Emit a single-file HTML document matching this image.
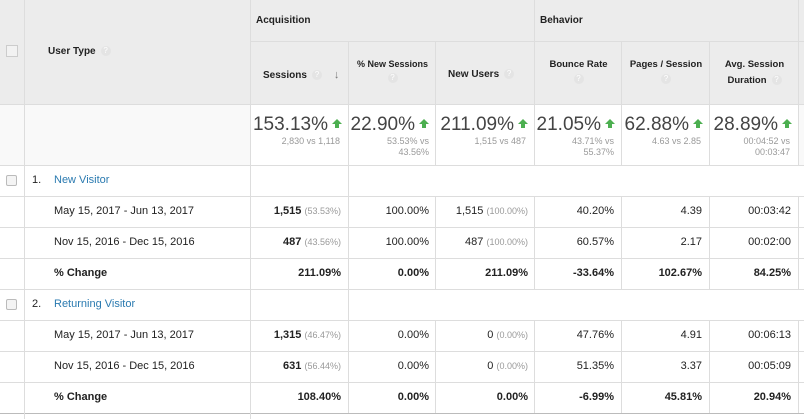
<!DOCTYPE html>
<html><head><style>
*{margin:0;padding:0;box-sizing:border-box}
body{width:804px;height:419px;background:#fff;font-family:"Liberation Sans",Arial,sans-serif;color:#222;position:relative;overflow:hidden}
.a{position:absolute}
.hl{position:absolute;height:1px;background:#ddd}
.vl{position:absolute;width:1px;background:#ddd}
.h{font-size:10px;font-weight:bold;color:#222}
.q{display:inline-block;width:10px;height:10px;border-radius:50%;background:#e4e4e4;color:#fff;font-size:8px;text-align:center;line-height:10px;vertical-align:middle;margin-left:5px;font-weight:normal}
.big{font-size:19px;color:#444;text-align:right}
.up{display:inline-block;width:0;height:0;border-left:5px solid transparent;border-right:5px solid transparent;border-bottom:5px solid #4caf50;position:relative;top:-6px;margin-left:4px}
.up:after{content:"";position:absolute;left:-2px;top:5px;width:4px;height:4px;background:#4caf50}
.sm{font-size:9px;color:#999;text-align:right;line-height:11px}
.c{font-size:11px;text-align:right}
.g{color:#999;font-size:9px}
.b{font-weight:bold}
</style></head><body>
<div class="a" style="left:0;top:0;width:804px;height:104px;background:#ececec"></div>
<div class="a" style="left:0;top:104px;width:804px;height:61px;background:#f9f9f9"></div>
<div class="a" style="left:251px;top:104px;width:548px;height:61px;background:#fff"></div>
<div class="hl" style="left:0;top:104px;width:804px"></div>
<div class="hl" style="left:251px;top:41px;width:553px"></div>
<div class="hl" style="left:0;top:165px;width:804px"></div>
<div class="hl" style="left:0;top:196px;width:804px"></div>
<div class="hl" style="left:0;top:227px;width:804px"></div>
<div class="hl" style="left:0;top:258px;width:804px"></div>
<div class="hl" style="left:0;top:289px;width:804px"></div>
<div class="hl" style="left:0;top:320px;width:804px"></div>
<div class="hl" style="left:0;top:351px;width:804px"></div>
<div class="hl" style="left:0;top:382px;width:804px"></div>
<div class="hl" style="left:0;top:413px;width:804px;background:#bbb"></div>
<div class="vl" style="left:24px;top:0;height:419px"></div>
<div class="vl" style="left:250px;top:0;height:419px"></div>
<div class="vl" style="left:534px;top:0;height:165px"></div>
<div class="vl" style="left:798px;top:0;height:165px"></div>
<div class="vl" style="left:348px;top:41px;height:124px"></div>
<div class="vl" style="left:435px;top:41px;height:124px"></div>
<div class="vl" style="left:621px;top:41px;height:124px"></div>
<div class="vl" style="left:709px;top:41px;height:124px"></div>
<div class="vl" style="left:348px;top:165px;height:31px"></div>
<div class="vl" style="left:348px;top:289px;height:31px"></div>
<div class="a" style="left:348px;top:196px;width:451px;height:93px;border-left:1px solid #ddd;border-right:1px solid #ddd"></div>
<div class="vl" style="left:435px;top:196px;height:93px"></div><div class="vl" style="left:534px;top:196px;height:93px"></div><div class="vl" style="left:621px;top:196px;height:93px"></div><div class="vl" style="left:709px;top:196px;height:93px"></div>
<div class="a" style="left:348px;top:320px;width:451px;height:93px;border-left:1px solid #ddd;border-right:1px solid #ddd"></div>
<div class="vl" style="left:435px;top:320px;height:93px"></div><div class="vl" style="left:534px;top:320px;height:93px"></div><div class="vl" style="left:621px;top:320px;height:93px"></div><div class="vl" style="left:709px;top:320px;height:93px"></div>
<div class="a" style="left:6px;top:45px;width:12px;height:12px;border:1px solid #ccc;background:#f2f2f2"></div>
<div class="a h" style="left:48px;top:46px">User Type<span class="q">?</span></div>
<div class="a h" style="left:256px;top:15px">Acquisition</div>
<div class="a h" style="left:540px;top:15px">Behavior</div>
<div class="a h" style="left:263px;top:69px">Sessions<span class="q">?</span><span style="margin-left:12px;color:#777;font-size:11px">↓</span></div>
<div class="a h" style="left:349px;top:59px;width:87px;text-align:center;font-size:9px">% New Sessions<br><span class="q" style="margin:4px 0 0">?</span></div>
<div class="a h" style="left:448px;top:69px">New Users<span class="q">?</span></div>
<div class="a h" style="left:535px;top:59px;width:87px;text-align:center;font-size:9.5px">Bounce Rate<br><span class="q" style="margin:4px 0 0">?</span></div>
<div class="a h" style="left:622px;top:59px;width:88px;text-align:center;font-size:9.5px">Pages / Session<br><span class="q" style="margin:4px 0 0">?</span></div>
<div class="a h" style="left:710px;top:57px;width:89px;text-align:center;font-size:9.5px;line-height:16px">Avg. Session<br>Duration<span class="q">?</span></div>
<div class="a big" style="left:252px;top:114px;width:90px">153.13%<span class="up"></span></div>
<div class="a sm" style="left:252px;top:136px;width:88px">2,830 vs 1,118</div>
<div class="a big" style="left:349px;top:114px;width:80px">22.90%<span class="up"></span></div>
<div class="a sm" style="left:349px;top:136px;width:80px">53.53% vs<br>43.56%</div>
<div class="a big" style="left:436px;top:114px;width:92px">211.09%<span class="up"></span></div>
<div class="a sm" style="left:436px;top:136px;width:90px">1,515 vs 487</div>
<div class="a big" style="left:535px;top:114px;width:80px">21.05%<span class="up"></span></div>
<div class="a sm" style="left:535px;top:136px;width:79px">43.71% vs<br>55.37%</div>
<div class="a big" style="left:622px;top:114px;width:81px">62.88%<span class="up"></span></div>
<div class="a sm" style="left:622px;top:136px;width:79px">4.63 vs 2.85</div>
<div class="a big" style="left:710px;top:114px;width:82px">28.89%<span class="up"></span></div>
<div class="a sm" style="left:710px;top:136px;width:80px">00:04:52 vs<br>00:03:47</div>
<div class="a" style="left:6px;top:175px;width:11px;height:11px;border:1px solid #bbb;border-radius:2px;background:#f4f4f4"></div>
<div class="a c" style="left:32px;top:174px;text-align:left">1.</div>
<div class="a c" style="left:54px;top:174px;text-align:left;color:#2a7ab0">New Visitor</div>
<div class="a" style="left:6px;top:299px;width:11px;height:11px;border:1px solid #bbb;border-radius:2px;background:#f4f4f4"></div>
<div class="a c" style="left:32px;top:298px;text-align:left">2.</div>
<div class="a c" style="left:54px;top:298px;text-align:left;color:#2a7ab0">Returning Visitor</div>
<div class="a c" style="left:54px;top:205px;text-align:left">May 15, 2017 - Jun 13, 2017</div>
<div class="a c" style="left:54px;top:236px;text-align:left">Nov 15, 2016 - Dec 15, 2016</div>
<div class="a c b" style="left:54px;top:267px;text-align:left">% Change</div>
<div class="a c" style="left:54px;top:329px;text-align:left">May 15, 2017 - Jun 13, 2017</div>
<div class="a c" style="left:54px;top:360px;text-align:left">Nov 15, 2016 - Dec 15, 2016</div>
<div class="a c b" style="left:54px;top:391px;text-align:left">% Change</div>
<div class="a c" style="left:251px;top:205px;width:90px"><b>1,515</b> <span class="g">(53.53%)</span></div>
<div class="a c" style="left:251px;top:236px;width:90px"><b>487</b> <span class="g">(43.56%)</span></div>
<div class="a c b" style="left:251px;top:267px;width:90px">211.09%</div>
<div class="a c" style="left:251px;top:329px;width:90px"><b>1,315</b> <span class="g">(46.47%)</span></div>
<div class="a c" style="left:251px;top:360px;width:90px"><b>631</b> <span class="g">(56.44%)</span></div>
<div class="a c b" style="left:251px;top:391px;width:90px">108.40%</div>
<div class="a c" style="left:349px;top:205px;width:80px">100.00%</div>
<div class="a c" style="left:349px;top:236px;width:80px">100.00%</div>
<div class="a c b" style="left:349px;top:267px;width:80px">0.00%</div>
<div class="a c" style="left:349px;top:329px;width:80px">0.00%</div>
<div class="a c" style="left:349px;top:360px;width:80px">0.00%</div>
<div class="a c b" style="left:349px;top:391px;width:80px">0.00%</div>
<div class="a c" style="left:436px;top:205px;width:92px">1,515 <span class="g">(100.00%)</span></div>
<div class="a c" style="left:436px;top:236px;width:92px">487 <span class="g">(100.00%)</span></div>
<div class="a c b" style="left:436px;top:267px;width:92px">211.09%</div>
<div class="a c" style="left:436px;top:329px;width:92px">0 <span class="g">(0.00%)</span></div>
<div class="a c" style="left:436px;top:360px;width:92px">0 <span class="g">(0.00%)</span></div>
<div class="a c b" style="left:436px;top:391px;width:92px">0.00%</div>
<div class="a c" style="left:535px;top:205px;width:79px">40.20%</div>
<div class="a c" style="left:535px;top:236px;width:79px">60.57%</div>
<div class="a c b" style="left:535px;top:267px;width:79px">-33.64%</div>
<div class="a c" style="left:535px;top:329px;width:79px">47.76%</div>
<div class="a c" style="left:535px;top:360px;width:79px">51.35%</div>
<div class="a c b" style="left:535px;top:391px;width:79px">-6.99%</div>
<div class="a c" style="left:622px;top:205px;width:80px">4.39</div>
<div class="a c" style="left:622px;top:236px;width:80px">2.17</div>
<div class="a c b" style="left:622px;top:267px;width:80px">102.67%</div>
<div class="a c" style="left:622px;top:329px;width:80px">4.91</div>
<div class="a c" style="left:622px;top:360px;width:80px">3.37</div>
<div class="a c b" style="left:622px;top:391px;width:80px">45.81%</div>
<div class="a c" style="left:710px;top:205px;width:81px">00:03:42</div>
<div class="a c" style="left:710px;top:236px;width:81px">00:02:00</div>
<div class="a c b" style="left:710px;top:267px;width:81px">84.25%</div>
<div class="a c" style="left:710px;top:329px;width:81px">00:06:13</div>
<div class="a c" style="left:710px;top:360px;width:81px">00:05:09</div>
<div class="a c b" style="left:710px;top:391px;width:81px">20.94%</div>
</body></html>
